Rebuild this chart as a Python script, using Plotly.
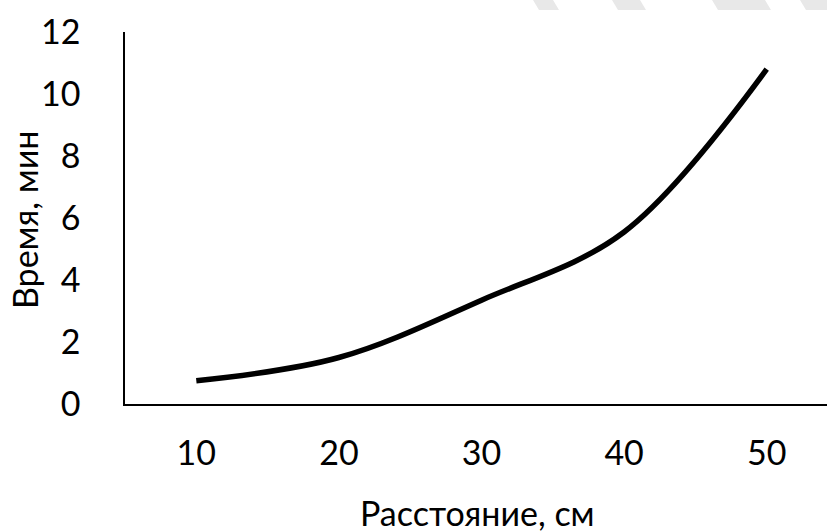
import plotly.graph_objects as go

distance_cm = [10, 20, 30, 40, 50]
time_min = [0.75, 1.5, 3.35, 5.55, 10.8]
y_ticks = [0, 2, 4, 6, 8, 10, 12]

W, H = 827, 532
L, R, T, B = 125, 0, 32, 128
FONT = "Lato"
FS = 34

fig = go.Figure()
fig.add_trace(go.Scatter(
    x=distance_cm, y=time_min, mode="lines",
    line=dict(color="black", width=5.5, shape="spline", smoothing=1.0),
    hoverinfo="skip", showlegend=False,
))

fig.update_layout(
    width=W, height=H,
    margin=dict(l=L, r=R, t=T, b=B, pad=0, autoexpand=False),
    paper_bgcolor="white", plot_bgcolor="white",
    font=dict(family=FONT, size=FS, color="black"),
    showlegend=False,
)
fig.update_xaxes(
    range=[5, 5 + (W - L - R) / 142.6 * 10],
    tickvals=distance_cm, ticktext=[str(v) for v in distance_cm],
    showgrid=False, zeroline=False, automargin=False,
    showline=True, linecolor="black", linewidth=1.5,
    ticks="", ticklabelstandoff=18,
)
fig.update_yaxes(
    range=[0, 12], tickvals=y_ticks,
    showgrid=False, zeroline=False, automargin=False,
    showline=True, linecolor="black", linewidth=1.5,
    ticks="", ticklabelstandoff=36,
)

ph = H - T - B
pw = W - L - R
fig.add_annotation(text="Расстояние, см", xref="paper", yref="paper",
                   x=(478 - L) / pw, y=-(512 - (H - B)) / ph,
                   xanchor="center", yanchor="middle", showarrow=False,
                   font=dict(size=FS))
fig.add_annotation(text="Время, мин", xref="paper", yref="paper",
                   x=-(L - 24) / pw, y=((H - B) - 220) / ph,
                   xanchor="center", yanchor="middle", showarrow=False,
                   textangle=-90, font=dict(size=FS))

# faint watermark fragments at top edge (scan artefact)
for x0, x1 in [(533, 553), (612, 640), (712, 765), (800, 827)]:
    fig.add_shape(type="path", xref="paper", yref="paper",
                  path="M {a},{t} L {b},{t} L {c},{u} L {d},{u} Z".format(
                      a=(x0 - L) / pw, b=(x1 - L) / pw,
                      c=(x1 + 6 - L) / pw, d=(x0 + 6 - L) / pw,
                      t=1 + T / ph, u=1 + (T - 10) / ph),
                  fillcolor="#e8e8e8", line=dict(width=0), layer="below")

fig.write_html("out.html", config={"displayModeBar": False},
               post_script="document.body.style.margin='0';document.body.style.overflow='hidden';")
